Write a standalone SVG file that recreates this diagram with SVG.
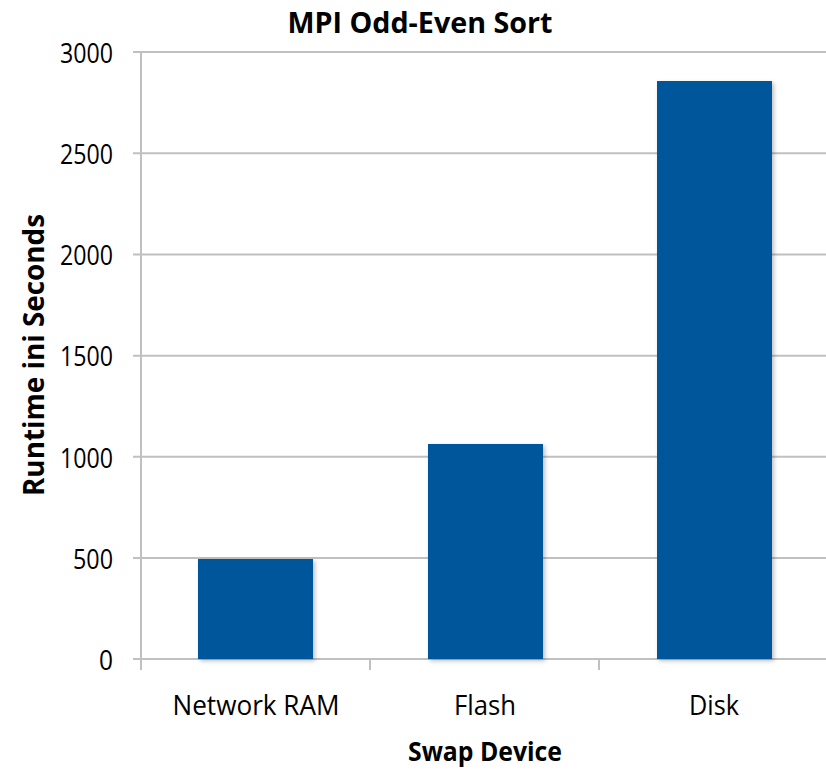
<svg xmlns="http://www.w3.org/2000/svg" width="826" height="770" viewBox="0 0 826 770">
  <style>
    .grid { stroke: #c0c0c0; stroke-width: 2; fill: none; }
    .axis { stroke: #c0c0c0; stroke-width: 2; fill: none; }
    .bar { fill: #03579a; filter: url(#barShadow); }
    .tick { font-family: "Open Sans", "Noto Sans", sans-serif; font-size: 28px; fill: #000; }
    .ylab { text-anchor: end; }
    .xlab { text-anchor: middle; }
    .bold { font-family: "Open Sans", "Noto Sans", sans-serif; font-weight: bold; fill: #000; text-anchor: middle; }
  </style>
  <defs>
    <filter id="barShadow" x="-10%" y="-10%" width="130%" height="130%">
      <feDropShadow dx="2" dy="2" stdDeviation="2" flood-color="#000" flood-opacity="0.25"/>
    </filter>
  </defs>
  <rect width="826" height="770" fill="#fff"/>

  <!-- title -->
  <text class="bold" x="420" y="33" font-size="28" textLength="265" lengthAdjust="spacingAndGlyphs">MPI Odd-Even Sort</text>

  <!-- horizontal gridlines with left tick stubs -->
  <g id="gridlines">
    <line class="grid" x1="133" y1="52" x2="826" y2="52"/>
    <line class="grid" x1="133" y1="153.3" x2="826" y2="153.3"/>
    <line class="grid" x1="133" y1="254.5" x2="826" y2="254.5"/>
    <line class="grid" x1="133" y1="355.7" x2="826" y2="355.7"/>
    <line class="grid" x1="133" y1="456.8" x2="826" y2="456.8"/>
    <line class="grid" x1="133" y1="558" x2="826" y2="558"/>
    <line class="axis" x1="133" y1="659" x2="826" y2="659"/>
  </g>

  <!-- axes and category ticks -->
  <g id="axes">
    <line class="axis" x1="141" y1="52" x2="141" y2="670"/>
    <line class="axis" x1="370" y1="659" x2="370" y2="670"/>
    <line class="axis" x1="599" y1="659" x2="599" y2="670"/>
  </g>

  <!-- y tick labels -->
  <g id="yticks">
    <text class="tick ylab" x="113" y="63" textLength="53" lengthAdjust="spacingAndGlyphs">3000</text>
    <text class="tick ylab" x="113" y="164" textLength="53" lengthAdjust="spacingAndGlyphs">2500</text>
    <text class="tick ylab" x="113" y="265" textLength="53" lengthAdjust="spacingAndGlyphs">2000</text>
    <text class="tick ylab" x="113" y="366" textLength="53" lengthAdjust="spacingAndGlyphs">1500</text>
    <text class="tick ylab" x="113" y="468" textLength="53" lengthAdjust="spacingAndGlyphs">1000</text>
    <text class="tick ylab" x="113" y="569" textLength="40" lengthAdjust="spacingAndGlyphs">500</text>
    <text class="tick ylab" x="113" y="670" textLength="14" lengthAdjust="spacingAndGlyphs">0</text>
  </g>

  <!-- bars -->
  <g id="bar-network-ram">
    <rect class="bar" x="198" y="559" width="115" height="100"/>
  </g>
  <g id="bar-flash">
    <rect class="bar" x="428" y="444" width="115" height="215"/>
  </g>
  <g id="bar-disk">
    <rect class="bar" x="657" y="81" width="115" height="578"/>
  </g>

  <!-- category labels -->
  <g id="xticks">
    <text class="tick xlab" x="256" y="715" textLength="167" lengthAdjust="spacingAndGlyphs">Network RAM</text>
    <text class="tick xlab" x="485" y="715" textLength="62" lengthAdjust="spacingAndGlyphs">Flash</text>
    <text class="tick xlab" x="714" y="715" textLength="50" lengthAdjust="spacingAndGlyphs">Disk</text>
  </g>

  <!-- axis titles -->
  <text class="bold" x="485" y="761" font-size="27" textLength="154" lengthAdjust="spacingAndGlyphs">Swap Device</text>
  <text class="bold" transform="translate(44,355) rotate(-90)" x="0" y="0" font-size="28" textLength="282" lengthAdjust="spacingAndGlyphs">Runtime ini Seconds</text>
</svg>
